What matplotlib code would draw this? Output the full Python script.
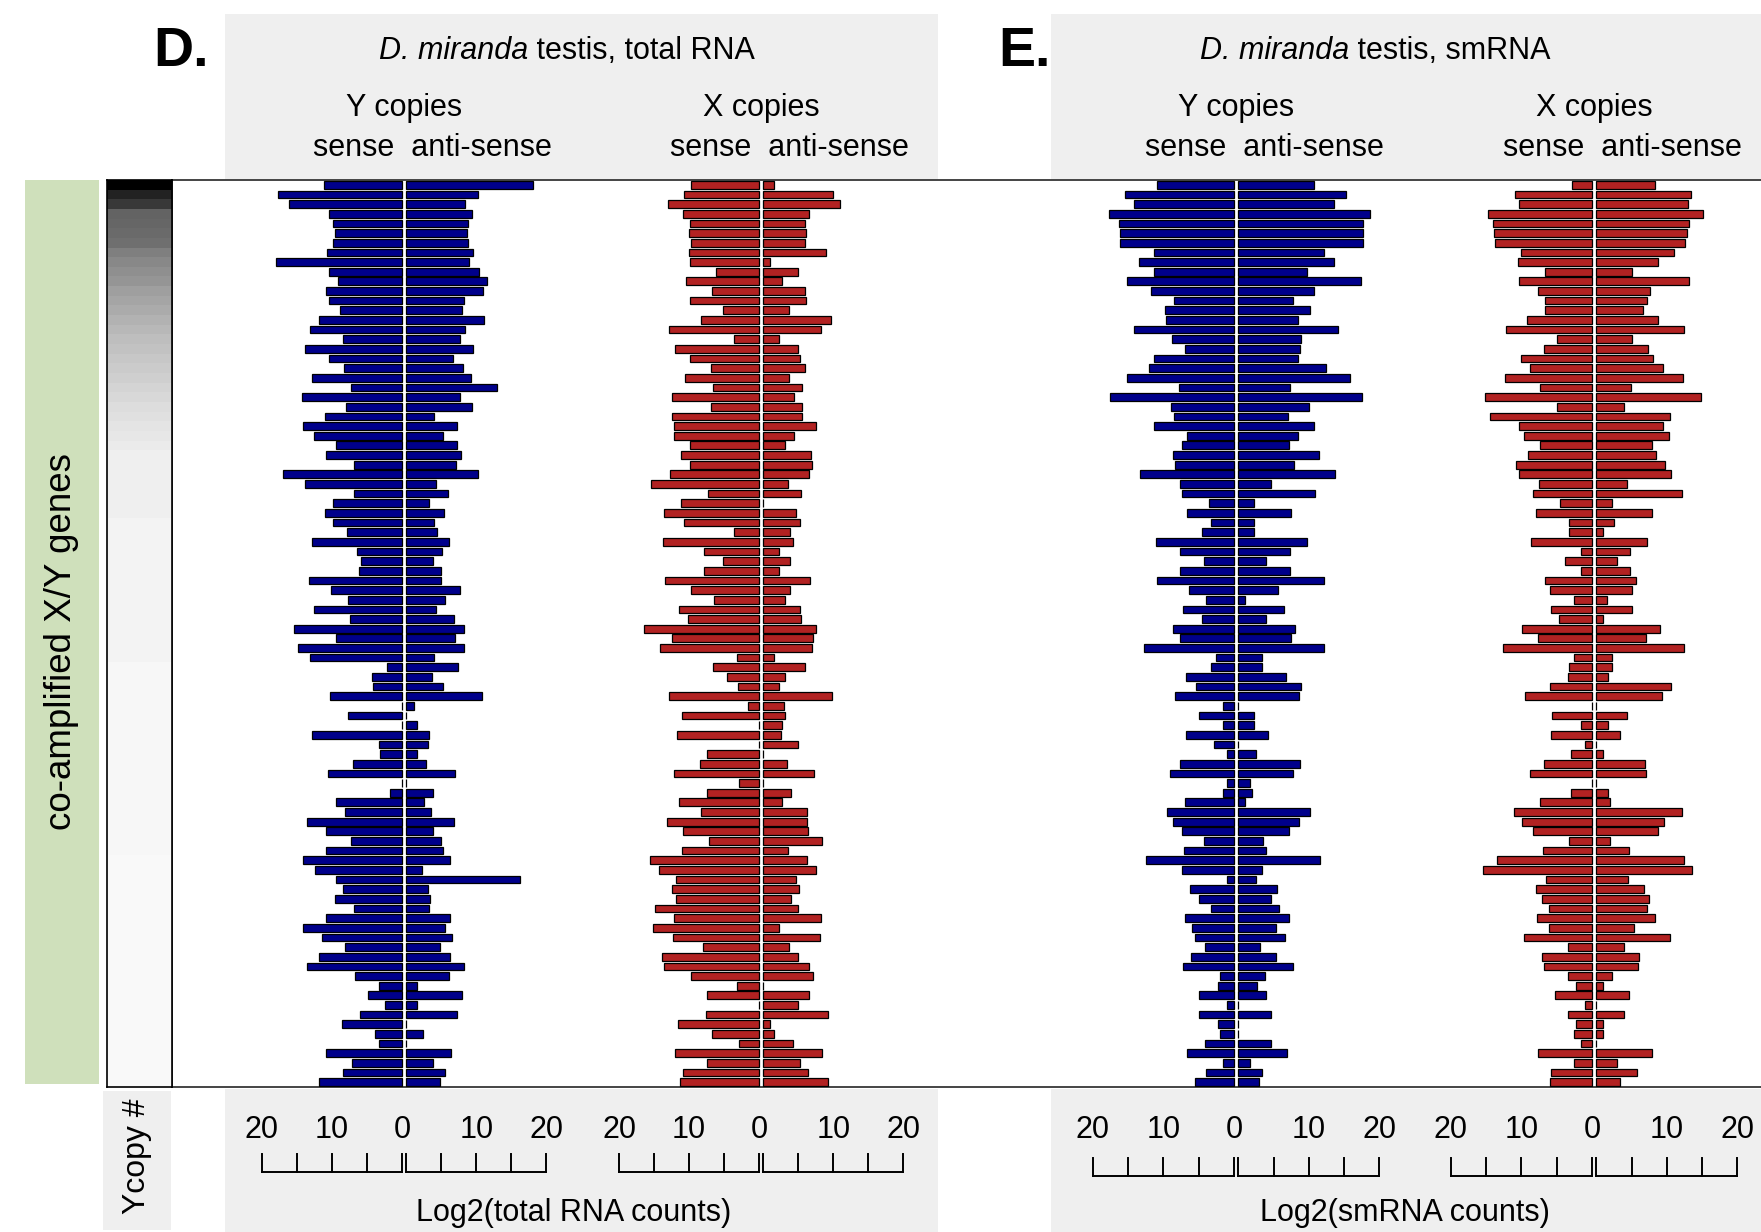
import matplotlib
matplotlib.use("Agg")
import matplotlib.pyplot as plt
from matplotlib.patches import Rectangle
from matplotlib.transforms import blended_transform_factory
import numpy as np

plt.rcParams['font.family'] = ['Liberation Sans', 'DejaVu Sans']

# 94 co-amplified X/Y genes, sorted by Y copy number (top = most copies)
ycopy = [100, 88, 82, 68, 67, 66, 64, 58, 55, 52,
         50, 47, 45, 43, 41, 39, 37, 35, 33, 31,
         29, 27, 25, 23, 21, 19, 17, 15, 13, 13,
         13, 13, 13, 13, 13, 10, 10, 10, 10, 10,
         10, 10, 10, 10, 10, 10, 10, 10, 10, 10,
         7, 7, 7, 7, 7, 7, 7, 7, 7, 7,
         7, 7, 7, 7, 7, 7, 7, 7, 7, 7,
         5, 5, 5, 5, 5, 5, 5, 5, 5, 5,
         5, 5, 5, 5, 5, 5, 5, 5, 5, 5,
         5, 5, 5, 5]

# D. total RNA, log2 counts
tot_y_sense = [11.1, 17.7, 16.2, 10.4, 9.8, 9.6, 9.8, 10.7, 18.0, 10.4,
               9.2, 10.8, 10.5, 8.8, 11.9, 13.1, 8.5, 13.8, 10.5, 8.3,
               12.9, 7.3, 14.3, 8.0, 11.0, 14.1, 12.6, 9.4, 10.8, 6.8,
               17.0, 13.9, 6.9, 9.8, 11.0, 9.8, 7.9, 12.8, 6.4, 5.9,
               6.2, 13.3, 10.2, 7.7, 12.6, 7.5, 15.5, 9.5, 14.8, 13.1,
               2.1, 4.3, 4.2, 10.3, 0.0, 7.7, 0.0, 12.8, 3.3, 3.1,
               7.0, 10.6, 0.0, 1.7, 9.5, 8.2, 13.6, 10.9, 7.3, 10.8,
               14.1, 12.5, 9.5, 8.5, 9.6, 6.9, 10.8, 14.2, 11.4, 8.1,
               11.9, 13.6, 6.7, 3.3, 4.9, 2.5, 6.0, 8.6, 3.9, 3.3,
               10.8, 7.2, 8.4, 11.8]
tot_y_anti = [18.1, 10.3, 8.4, 9.4, 8.8, 8.7, 8.8, 9.5, 8.9, 10.4,
              11.5, 10.9, 8.3, 8.0, 11.1, 8.4, 7.7, 9.6, 6.7, 8.1,
              9.2, 13.0, 7.7, 9.4, 3.9, 7.2, 5.2, 7.2, 7.8, 7.1,
              10.3, 4.3, 6.0, 3.2, 5.4, 3.9, 4.4, 6.1, 5.1, 3.8,
              5.0, 5.0, 7.7, 5.5, 4.3, 6.8, 8.3, 6.9, 8.3, 4.0,
              7.4, 3.7, 5.2, 10.8, 1.1, 0.0, 1.6, 3.3, 3.1, 1.6,
              2.8, 7.0, 0.0, 3.8, 2.6, 3.6, 6.8, 3.8, 4.9, 5.2,
              6.2, 2.3, 16.2, 3.1, 3.4, 3.2, 6.2, 5.6, 6.5, 4.8,
              6.2, 8.3, 6.1, 1.6, 8.0, 1.6, 7.2, 0.0, 2.4, 0.0,
              6.4, 3.8, 5.6, 4.8]
tot_x_sense = [9.7, 10.7, 13.0, 10.8, 9.9, 10.0, 9.7, 10.0, 9.9, 6.2,
               10.5, 6.7, 9.9, 5.2, 8.3, 12.9, 3.6, 12.0, 9.9, 6.9,
               10.6, 6.6, 12.4, 6.9, 12.4, 12.1, 12.1, 9.9, 11.1, 9.8,
               12.7, 15.5, 7.3, 11.1, 13.6, 10.7, 3.6, 13.7, 7.9, 5.1,
               7.8, 13.5, 9.7, 6.4, 11.5, 10.1, 16.5, 12.5, 14.1, 3.2,
               6.6, 4.6, 3.0, 12.8, 1.6, 11.0, 0.0, 11.7, 0.0, 7.4,
               8.4, 12.2, 2.8, 7.4, 11.4, 8.3, 13.1, 10.9, 7.2, 11.0,
               15.6, 14.3, 11.9, 12.5, 11.9, 14.9, 12.1, 15.2, 12.3, 8.0,
               13.9, 13.6, 9.7, 3.2, 7.5, 0.0, 7.6, 11.6, 6.7, 2.8,
               12.0, 7.5, 10.8, 11.3]
tot_x_anti = [1.5, 9.9, 11.0, 6.6, 6.0, 6.1, 6.0, 9.0, 1.0, 5.0,
              2.7, 6.0, 6.1, 3.7, 9.7, 8.2, 2.2, 4.9, 5.2, 6.0,
              3.7, 5.5, 4.4, 5.5, 5.5, 7.5, 4.4, 3.1, 6.8, 7.0,
              6.6, 3.6, 5.4, 0.0, 4.7, 5.3, 3.8, 4.2, 2.2, 3.8,
              2.2, 6.7, 3.8, 3.1, 5.2, 5.4, 7.5, 7.1, 7.0, 1.5,
              6.0, 3.1, 2.2, 9.8, 3.0, 3.1, 2.7, 2.5, 5.0, 0.0,
              3.4, 7.3, 0.0, 4.0, 2.7, 6.3, 6.3, 6.4, 8.4, 3.6,
              6.3, 7.5, 4.7, 5.1, 4.0, 5.0, 8.3, 2.2, 8.1, 3.7,
              5.0, 6.6, 7.1, 0.0, 6.6, 5.0, 9.2, 1.0, 1.5, 4.2,
              8.4, 5.2, 6.4, 9.2]

# E. smRNA, log2 counts
sm_y_sense = [10.9, 15.5, 14.1, 17.7, 16.3, 16.1, 16.1, 11.3, 13.5, 11.3,
              15.1, 11.8, 8.5, 9.8, 9.6, 14.2, 8.8, 7.0, 11.4, 12.0,
              15.2, 7.8, 17.6, 8.9, 8.5, 11.3, 6.6, 7.3, 8.6, 8.3,
              13.3, 7.7, 7.3, 3.6, 6.7, 3.2, 4.6, 11.1, 7.6, 4.3,
              7.6, 10.9, 6.4, 3.9, 7.2, 4.6, 8.6, 7.6, 12.7, 2.6,
              3.3, 6.8, 5.4, 8.4, 1.6, 5.0, 1.6, 6.8, 2.8, 1.0,
              7.7, 9.0, 1.0, 1.6, 6.9, 9.5, 8.6, 7.4, 4.2, 7.1,
              12.4, 7.4, 1.0, 6.2, 4.9, 3.3, 6.9, 6.0, 5.5, 4.1,
              6.1, 7.2, 2.0, 2.3, 4.9, 1.0, 4.9, 2.3, 2.0, 4.1,
              6.6, 1.6, 3.9, 5.5]
sm_y_anti = [10.8, 15.3, 13.5, 18.6, 17.7, 17.7, 17.7, 12.2, 13.6, 9.7,
             17.4, 10.8, 7.7, 10.1, 8.4, 14.2, 8.9, 8.7, 8.4, 12.5,
             15.8, 7.3, 17.6, 10.0, 7.0, 10.8, 8.4, 7.2, 11.4, 7.9,
             13.7, 4.7, 10.9, 2.3, 7.5, 2.3, 2.3, 9.7, 7.3, 4.0,
             7.3, 12.1, 5.7, 1.0, 6.5, 4.0, 8.1, 7.5, 12.2, 3.4,
             3.4, 6.7, 8.9, 8.6, 0.0, 2.3, 2.3, 4.2, 0.0, 2.5,
             8.8, 7.7, 1.6, 2.0, 1.0, 10.2, 8.6, 7.2, 3.5, 3.9,
             11.6, 3.3, 2.5, 5.5, 4.6, 5.8, 7.2, 5.4, 6.6, 3.1,
             5.3, 7.7, 3.8, 2.6, 4.0, 0.0, 4.7, 0.0, 0.0, 4.7,
             6.9, 1.6, 3.3, 2.9]
sm_x_sense = [2.9, 10.9, 10.4, 14.8, 14.0, 13.9, 13.8, 10.1, 10.5, 6.7,
              10.4, 7.7, 6.6, 6.6, 9.2, 12.2, 5.0, 6.8, 10.1, 8.8,
              12.3, 7.3, 15.1, 4.9, 14.5, 10.3, 9.6, 7.3, 9.0, 10.7,
              10.3, 7.5, 8.4, 4.5, 8.0, 3.3, 3.2, 8.7, 1.6, 3.8,
              1.6, 6.6, 6.0, 2.6, 5.8, 4.7, 9.9, 7.6, 12.6, 2.6,
              3.2, 3.4, 6.0, 9.5, 0.0, 5.7, 1.6, 5.8, 1.0, 3.0,
              6.8, 8.8, 0.0, 3.0, 7.3, 11.1, 9.9, 8.4, 3.3, 6.9,
              13.4, 15.4, 6.5, 8.0, 7.1, 6.1, 7.8, 6.1, 9.7, 3.4,
              7.1, 6.8, 3.4, 2.3, 5.2, 1.0, 3.4, 2.3, 2.6, 1.6,
              7.6, 2.6, 5.8, 6.0]
sm_x_anti = [8.3, 13.4, 13.0, 15.1, 13.2, 12.8, 12.6, 11.0, 8.7, 5.1,
             13.2, 7.6, 7.2, 6.6, 8.8, 12.4, 5.1, 7.4, 8.1, 9.5,
             12.3, 4.9, 14.9, 4.0, 10.5, 9.5, 10.3, 7.9, 8.4, 9.8,
             10.6, 4.3, 12.1, 2.3, 7.9, 2.5, 1.0, 7.2, 4.8, 2.9,
             4.8, 5.7, 5.0, 1.5, 5.0, 1.0, 9.1, 7.0, 12.5, 2.3,
             2.3, 1.6, 10.6, 9.3, 0.0, 4.3, 1.6, 3.3, 0.0, 1.0,
             6.9, 7.1, 0.0, 1.6, 2.0, 12.2, 9.6, 8.7, 2.0, 4.6,
             12.5, 13.6, 4.5, 6.8, 7.5, 7.2, 8.3, 5.3, 10.4, 4.0,
             6.0, 5.9, 2.3, 1.0, 4.6, 0.0, 3.9, 1.0, 1.0, 0.0,
             7.9, 2.9, 5.8, 3.3]

tick_vals = [20, 10, 0, 10, 20]
BLUE = '#00008b'
RED = '#b22222'
GREY = '#efefef'
FS = 22

W, H = 1761, 1232
fig = plt.figure(figsize=(W / 100, H / 100), dpi=100)


def box(x0, y0, x1, y1):
    # pixel box (top-left origin) -> figure fraction
    return [x0 / W, 1 - y1 / H, (x1 - x0) / W, (y1 - y0) / H]


def fy(y):
    return 1 - y / H


TOP, BOT = 180, 1087
GAP = 0.6
n = len(ycopy)
rows = np.arange(1, n + 1)

# background boxes
for x0, y0, x1, y1, c in [(225, 14, 938, 180, GREY), (1051, 14, 1800, 180, GREY),
                          (225, 1089, 938, 1240, GREY), (1051, 1089, 1800, 1240, GREY),
                          (103, 1091, 171, 1230, GREY), (25, 180, 99, 1084, '#cfe0bb')]:
    fig.add_artist(Rectangle((x0 / W, fy(y1)), (x1 - x0) / W, (y1 - y0) / H,
                             transform=fig.transFigure, color=c, zorder=-1, lw=0))

# plot frame
fr = fig.add_axes(box(172, TOP, 1800, BOT))
fr.set_xticks([])
fr.set_yticks([])
for sp in fr.spines.values():
    sp.set_color('#444444')
    sp.set_linewidth(1.4)

# Ycopy shading column
yc = fig.add_axes(box(107, TOP, 172, BOT))
yc.imshow(np.array(ycopy)[:, None], cmap='Greys', vmin=0, vmax=max(ycopy),
          aspect='auto', interpolation='nearest')
yc.set_xticks([])
yc.set_yticks([])
for sp in yc.spines.values():
    sp.set_color('black')
    sp.set_linewidth(1.2)

fig.text(62 / W, fy(641), 'co-amplified X/Y genes', rotation=90, fontsize=26.5,
         ha='center', va='center')
fig.text(137 / W, fy(1156), 'Ycopy #', rotation=90, fontsize=23,
         ha='center', va='center')

# panels: (zero pixel, px per unit, sense, anti, colour, header, bracket y)
panels = [(402, 7.0, tot_y_sense, tot_y_anti, BLUE, 'Y copies', (1154, 1172)),
          (759, 7.0, tot_x_sense, tot_x_anti, RED, 'X copies', (1154, 1172)),
          (1234, 7.06, sm_y_sense, sm_y_anti, BLUE, 'Y copies', (1158, 1176)),
          (1592, 7.06, sm_x_sense, sm_x_anti, RED, 'X copies', (1158, 1176))]

for z, s, sense, anti, col, head, (bt, bb) in panels:
    lo, hi = -22, 22 + GAP
    ax = fig.add_axes(box(z + lo * s, TOP, z + hi * s, BOT))
    ax.set_xlim(lo, hi)
    ax.set_ylim(n + 0.5, 0.5)
    ax.axis('off')
    ax.patch.set_alpha(0)
    ax.barh(rows, -np.array(sense), height=0.8, color=col,
            edgecolor='black', linewidth=0.9)
    ax.barh(rows, anti, left=GAP, height=0.8, color=col,
            edgecolor='black', linewidth=0.9)

    tr = blended_transform_factory(ax.transData, fig.transFigure)
    ax.text(GAP / 2, fy(116), head, transform=tr, ha='center',
            va='baseline', fontsize=FS)
    ax.text(GAP / 2 + 4.0, fy(156), 'sense  anti-sense', transform=tr,
            ha='center', va='baseline', fontsize=FS)

    pos = [-20, -10, 0, GAP + 10, GAP + 20]
    for p, t in zip(pos, tick_vals):
        ax.text(p, fy(1138), str(t), transform=tr, ha='center',
                va='baseline', fontsize=FS)
    for base, sign in [(0, -1), (GAP, 1)]:
        xs = base + sign * np.array([0, 5, 10, 15, 20])
        ax.plot([xs[0], xs[-1]], [fy(bb), fy(bb)], transform=tr,
                color='black', lw=1.4, clip_on=False)
        for x in xs:
            ax.plot([x, x], [fy(bt), fy(bb)], transform=tr,
                    color='black', lw=1.4, clip_on=False)

# headings
fig.text(181 / W, fy(66), 'D.', fontsize=40, fontweight='bold',
         ha='center', va='baseline')
fig.text(1025 / W, fy(66), 'E.', fontsize=40, fontweight='bold',
         ha='center', va='baseline')

renderer = fig.canvas.get_renderer()


def title(xc, rest):
    # italic species name followed by plain text, centred as one line
    t1 = fig.text(0, fy(59), 'D. miranda', style='italic', fontsize=FS,
                  va='baseline')
    t2 = fig.text(0, fy(59), ' ' + rest, fontsize=FS, va='baseline')
    w1 = t1.get_window_extent(renderer).width
    w2 = t2.get_window_extent(renderer).width
    x0 = xc - (w1 + w2) / 2
    t1.set_x(x0 / W)
    t2.set_x((x0 + w1) / W)


title(567, 'testis, total RNA')
title(1375, 'testis, smRNA')
fig.text(574 / W, fy(1221), 'Log2(total RNA counts)', fontsize=FS,
         ha='center', va='baseline')
fig.text(1405 / W, fy(1221), 'Log2(smRNA counts)', fontsize=FS,
         ha='center', va='baseline')

fig.savefig('out.png', dpi=100)
